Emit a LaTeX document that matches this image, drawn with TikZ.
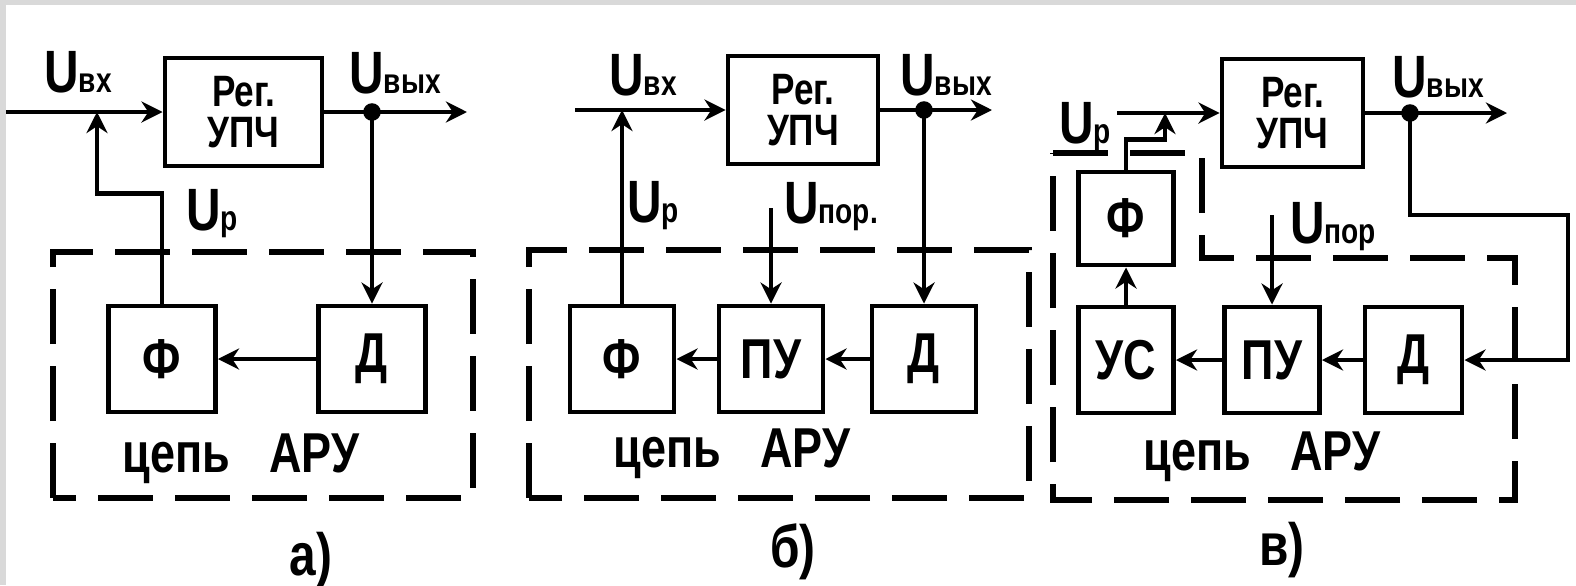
\documentclass[tikz,border=0pt]{standalone}
\usepackage{fontspec}
\setmainfont{Liberation Sans}[FakeStretch=0.8]
\usetikzlibrary{arrows.meta}
\newcommand{\Uv}[1]{U{\fontsize{10}{10}\selectfont #1}}

\begin{document}
\begin{tikzpicture}[
    blk/.style={draw, line width=1.4pt, minimum width=1.04cm, minimum height=1.06cm,
        inner sep=0pt, font=\fontsize{16}{16}\selectfont\bfseries},
    reg/.style={draw, line width=1.4pt, minimum height=1.08cm, inner sep=0pt,
        align=center, font=\fontsize{12.5}{11.5}\selectfont\bfseries},
    volt/.style={anchor=base, inner sep=0pt, font=\fontsize{17}{17}\selectfont\bfseries},
    chain/.style={anchor=base, inner sep=0pt, font=\fontsize{16}{16}\selectfont\bfseries},
    tag/.style={inner sep=0pt, font=\fontsize{17}{17}\selectfont\bfseries},
    arr/.style={-{Stealth[length=6pt, width=6pt]}, line width=1.3pt},
    frame/.style={line width=1.5pt, dash pattern=on 0.55cm off 0.22cm},
    dot/.style={circle, fill, inner sep=0pt, minimum size=5pt}
  ]
  \useasboundingbox (0,0) rectangle (15.76,5.85);
  \fill[black!15] (0,5.80) rectangle (15.76,5.85);
  \fill[black!15] (0,0) rectangle (0.06,5.85);

  % a)
  \node[reg, minimum width=1.57cm] (rega) at (2.435,4.73) {Рег.\\УПЧ};
  \node[blk, minimum width=1.07cm] (fa) at (1.62,2.26) {Ф};
  \node[blk, minimum width=1.07cm] (da) at (3.72,2.26) {Д};
  \coordinate (ina) at (0.06,4.73);
  \coordinate (outa) at (4.67,4.73);
  \coordinate (ja) at (0.97,4.73);
  \node[dot] (tapa) at (3.72,4.73) {};

  \draw[arr] (ina) -- (rega);
  \draw[arr] (rega) -- (outa);
  \draw[arr] (tapa.center) -- (da);
  \draw[arr] (da) -- (fa);
  \draw[arr] (fa.north) -- ++(0,1.10) -| (ja);
  \draw[frame] (0.53,0.87) rectangle (4.73,3.33);

  \node[volt] (uina) at (0.78,4.93) {\Uv{вх}};
  \node[volt] (uouta) at (3.95,4.92) {\Uv{вых}};
  \node[volt] (upa) at (2.12,3.55) {\Uv{р}};
  \node[chain] (ca) at (2.41,1.13) {цепь\hspace{0.7em}АРУ};
  \node[tag] (ta) at (3.11,0.25) {а)};

  % b)
  \node[reg, minimum width=1.50cm] (regb) at (8.03,4.75) {Рег.\\УПЧ};
  \node[blk] (fb) at (6.22,2.26) {Ф};
  \node[blk] (pub) at (7.71,2.26) {ПУ};
  \node[blk] (db) at (9.24,2.26) {Д};
  \coordinate (inb) at (5.75,4.75);
  \coordinate (outb) at (9.92,4.75);
  \coordinate (sb) at (7.71,3.77);
  \node[dot] (tapb) at (9.24,4.75) {};

  \draw[arr] (inb) -- (regb);
  \draw[arr] (regb) -- (outb);
  \draw[arr] (fb.north) -- (fb.north |- inb);
  \draw[arr] (sb) -- (pub);
  \draw[arr] (tapb.center) -- (db);
  \draw[arr] (db) -- (pub);
  \draw[arr] (pub) -- (fb);
  \draw[frame] (5.29,0.87) rectangle (10.29,3.35);

  \node[volt] (uinb) at (6.43,4.90) {\Uv{вх}};
  \node[volt] (uoutb) at (9.46,4.90) {\Uv{вых}};
  \node[volt] (upb) at (6.53,3.63) {\Uv{р}};
  \node[volt] (uporb) at (8.31,3.62) {\Uv{пор.}};
  \node[chain] (cb) at (7.32,1.18) {цепь\hspace{0.7em}АРУ};
  \node[tag] (tb) at (7.93,0.33) {б)};

  % c)
  \node[reg, minimum width=1.41cm] (regv) at (12.925,4.72) {Рег.\\УПЧ};
  \node[blk, minimum width=0.95cm, minimum height=0.93cm] (fv) at (11.26,3.665) {Ф};
  \node[blk, minimum width=0.95cm] (usv) at (11.26,2.25) {УС};
  \node[blk, minimum width=0.95cm] (puv) at (12.72,2.25) {ПУ};
  \node[blk, minimum width=0.97cm] (dv) at (14.135,2.25) {Д};
  \coordinate (inv) at (11.17,4.72);
  \coordinate (outv) at (15.07,4.72);
  \coordinate (jv) at (11.65,4.72);
  \coordinate (cv) at (15.68,3.70);
  \coordinate (sv) at (12.72,3.70);
  \node[dot] (tapv) at (14.10,4.72) {};

  \draw[arr] (inv) -- (regv);
  \draw[arr] (regv) -- (outv);
  \draw[arr] (fv.north) -- ++(0,0.30) -| (jv);
  \draw[arr] (usv) -- (fv);
  \draw[arr] (sv) -- (puv);
  \draw[arr] (tapv.center) |- (cv) |- (dv.east);
  \draw[arr] (dv) -- (puv);
  \draw[arr] (puv) -- (usv);
  \draw[frame] (10.53,4.32) -| (12.02,3.27) -| (15.15,0.85) -- (10.53,0.85) -- cycle;

  \node[volt] (upv) at (10.85,4.42) {\Uv{р}};
  \node[volt] (uoutv) at (14.38,4.88) {\Uv{вых}};
  \node[volt] (uporv) at (13.33,3.42) {\Uv{пор}};
  \node[chain] (cv2) at (12.62,1.15) {цепь\hspace{0.7em}АРУ};
  \node[tag] (tv) at (12.82,0.35) {в)};
\end{tikzpicture}
\end{document}
